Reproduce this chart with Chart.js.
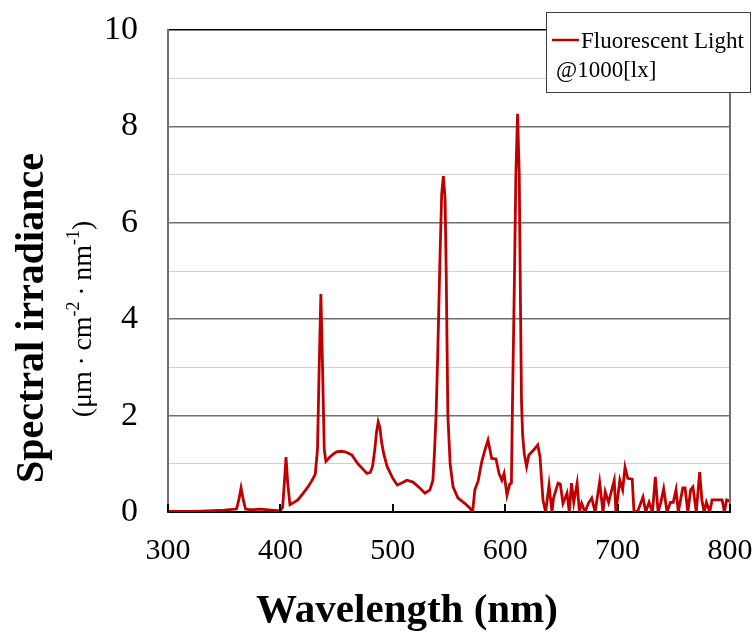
<!DOCTYPE html>
<html>
<head>
<meta charset="utf-8">
<script src="https://cdn.jsdelivr.net/npm/chart.js@4/dist/chart.umd.min.js"></script>
<style>
  html, body { margin: 0; padding: 0; background: #fff; }
  #wrap { width: 753px; height: 635px; position: relative; }
</style>
</head>
<body>
<div id="wrap"><canvas id="spec"></canvas></div>
<script>
// Fluorescent light spectrum
const wavelength = [
    300, 310, 320, 330, 340, 350, 355, 360, 361, 363, 365, 367, 369, 372, 377, 382, 387, 392, 397, 400,
    402, 403.5, 405, 406.5, 408.5, 412, 415.5, 420, 424.5, 428, 431, 433, 434.5, 436, 437.5, 439, 440.5,
    444, 447, 450, 454, 457.5, 460.5, 463.7, 466, 469, 473, 477, 480, 482, 484, 485.5, 487, 488.5, 490,
    492, 495, 500, 504, 508, 512.6, 518, 524, 528.6, 533, 535.7, 537, 538.5, 540, 542, 543.5, 545, 546.5,
    547.5, 549, 551, 553.6, 558, 564, 568.7, 571, 573, 576, 579, 582, 584.7, 588, 591.8, 594.5, 597, 599,
    601.6, 604, 605.5, 606.5, 608, 609.5, 611, 612.5, 613.5, 614.5, 615.5, 617, 619, 621, 625, 629, 631,
    633.6, 636, 639, 641.6, 643, 647, 649, 651.4, 655, 657, 659, 661, 664, 666, 668, 671, 674, 677, 680,
    684, 687, 689, 692, 697, 698.5, 702, 704.5, 706.6, 709, 713, 714.6, 718, 722.6, 725, 728, 731, 733.6,
    736, 738.5, 741, 744, 747, 749.5, 752, 754, 758, 760, 762.5, 765, 767, 770, 773, 775, 777, 779, 782,
    784, 788, 793, 795, 797, 800
];
const irradiance = [
    0.01, 0.01, 0.01, 0.02, 0.03, 0.04, 0.05, 0.06, 0.07, 0.25, 0.50, 0.25, 0.06, 0.05, 0.05, 0.06, 0.05, 0.04, 0.03, 0.03,
    0.10, 0.60, 1.14, 0.60, 0.15, 0.20, 0.25, 0.38, 0.52, 0.65, 0.78, 1.30, 3.00, 4.52, 3.00, 1.30, 1.05,
    1.14, 1.20, 1.25, 1.26, 1.25, 1.22, 1.18, 1.10, 1.00, 0.90, 0.80, 0.82, 0.95, 1.30, 1.65, 1.87, 1.75, 1.45,
    1.20, 0.94, 0.70, 0.56, 0.60, 0.66, 0.62, 0.50, 0.39, 0.46, 0.66, 1.20, 2.00, 3.30, 5.30, 6.60, 6.97, 6.50,
    5.00, 2.00, 1.00, 0.52, 0.29, 0.18, 0.08, 0.00, 0.46, 0.65, 1.03, 1.29, 1.49, 1.11, 1.10, 0.80, 0.66, 0.80,
    0.35, 0.58, 0.60, 2.30, 4.50, 7.00, 8.26, 7.00, 4.50, 2.30, 1.60, 1.20, 0.94, 1.18, 1.28, 1.39, 1.14,
    0.25, 0.00, 0.56, 0.00, 0.29, 0.60, 0.58, 0.18, 0.39, 0.00, 0.60, 0.20, 0.60, 0.00, 0.18, 0.00, 0.18, 0.29, 0.00,
    0.62, 0.00, 0.42, 0.20, 0.66, 0.00, 0.66, 0.46, 0.93, 0.70, 0.68, 0.00, 0.02, 0.31, 0.00, 0.20, 0.00, 0.73,
    0.00, 0.20, 0.48, 0.00, 0.20, 0.20, 0.46, 0.00, 0.50, 0.50, 0.00, 0.46, 0.52, 0.00, 0.83, 0.25, 0.00, 0.20, 0.00,
    0.25, 0.25, 0.25, 0.00, 0.25, 0.22
];

const xTicks = [300, 400, 500, 600, 700, 800];
const yTicks = [0, 2, 4, 6, 8, 10];

const legendLines = ['Fluorescent Light', '@1000[lx]'];
const xTitle = 'Wavelength (nm)';
const yTitle = 'Spectral irradiance';
// unit line: [text, isSuperscript]
const yUnit = [['(\u03bcm\u2009\u00b7\u2009cm', false], ['-2', true], ['\u2009\u00b7\u2009nm', false], ['-1', true], [')', false]];

const SERIF = "'Liberation Serif', 'Times New Roman', serif";
const LINE_RED = '#c00000';

/* ── extra drawing: inner x ticks, right frame, legend box, axis titles ── */
const decorPlugin = {
    id: 'decor',
    afterDraw(chart) {
        const { ctx, chartArea: a, scales: { x } } = chart;
        ctx.save();

        // right frame
        ctx.strokeStyle = '#707070';
        ctx.lineWidth = 2;
        ctx.beginPath();
        ctx.moveTo(a.right, a.top);
        ctx.lineTo(a.right, a.bottom);
        ctx.stroke();

        // inner tick marks on the wavelength axis
        ctx.strokeStyle = '#000';
        ctx.lineWidth = 2;
        xTicks.forEach(v => {
            const px = Math.round(x.getPixelForValue(v));
            ctx.beginPath();
            ctx.moveTo(px, a.bottom);
            ctx.lineTo(px, a.bottom - 8);
            ctx.stroke();
        });

        // legend box
        ctx.fillStyle = '#fff';
        ctx.fillRect(546, 12, 204, 80);
        ctx.strokeStyle = '#404040';
        ctx.lineWidth = 1;
        ctx.strokeRect(546.5, 12.5, 204, 80);
        ctx.strokeStyle = chart.data.datasets[0].borderColor;
        ctx.lineWidth = 2.5;
        ctx.beginPath();
        ctx.moveTo(552, 40);
        ctx.lineTo(579, 40);
        ctx.stroke();
        ctx.fillStyle = '#000';
        ctx.font = `23px ${SERIF}`;
        ctx.textBaseline = 'alphabetic';
        ctx.textAlign = 'left';
        ctx.fillText(legendLines[0], 581, 48);
        ctx.fillText(legendLines[1], 556, 77);

        // x title
        ctx.font = `bold 41px ${SERIF}`;
        ctx.textAlign = 'center';
        ctx.textBaseline = 'middle';
        ctx.fillText(xTitle, 407, 611);

        // y title
        ctx.font = `bold 40px ${SERIF}`;
        ctx.save();
        ctx.translate(33, 318);
        ctx.rotate(-Math.PI / 2);
        ctx.fillText(yTitle, 0, 0);
        ctx.restore();

        // y unit line with superscripts
        ctx.save();
        ctx.translate(84, 319);
        ctx.rotate(-Math.PI / 2);
        ctx.textAlign = 'left';
        const base = `28px ${SERIF}`, sup = `18px ${SERIF}`;
        let total = 0;
        yUnit.forEach(([t, s]) => { ctx.font = s ? sup : base; total += ctx.measureText(t).width; });
        let cx = -total / 2;
        yUnit.forEach(([t, s]) => {
            ctx.font = s ? sup : base;
            ctx.fillText(t, cx, s ? -10 : 0);
            cx += ctx.measureText(t).width;
        });
        ctx.restore();

        ctx.restore();
    }
};

new Chart(document.getElementById('spec').getContext('2d'), {
    type: 'line',
    data: {
        datasets: [{
            label: legendLines.join(' '),
            data: wavelength.map((w, i) => ({ x: w, y: irradiance[i] })),
            borderColor: LINE_RED,
            backgroundColor: 'transparent',
            borderWidth: 2.8,
            pointRadius: 0,
            tension: 0,
        }],
    },
    options: {
        responsive: true,
        maintainAspectRatio: false,
        animation: false,
        layout: { padding: { left: 0, right: 23, top: 30, bottom: 0 } },
        plugins: {
            legend: { display: false },
            tooltip: { enabled: false },
        },
        scales: {
            x: {
                type: 'linear',
                min: 300,
                max: 800,
                afterFit: s => { s.height = 123; s.paddingLeft = 0; s.paddingRight = 0; },
                afterBuildTicks: s => { s.ticks = xTicks.map(v => ({ value: v })); },
                grid: { display: false, drawTicks: false },
                border: { color: '#000', width: 2 },
                ticks: {
                    color: '#000',
                    padding: 21,
                    maxRotation: 0,
                    autoSkip: false,
                    font: { family: SERIF, size: 30 },
                },
            },
            y: {
                min: 0,
                max: 10,
                afterFit: s => { s.width = 168; s.paddingTop = 0; s.paddingBottom = 0; },
                grid: {
                    drawTicks: false,
                    color: c => c.tick.value === 10 ? '#000'
                              : c.tick.value % 2 === 0 ? '#6e6e6e' : '#d0d0d0',
                    lineWidth: c => c.tick.value % 2 === 0 ? 1.5 : 1,
                },
                border: { color: '#707070', width: 2 },
                ticks: {
                    stepSize: 1,
                    autoSkip: false,
                    color: '#000',
                    padding: 30,
                    font: { family: SERIF, size: 34 },
                    callback: v => yTicks.includes(v) ? String(v) : '',
                },
            },
        },
    },
    plugins: [decorPlugin],
});
</script>
</body>
</html>
